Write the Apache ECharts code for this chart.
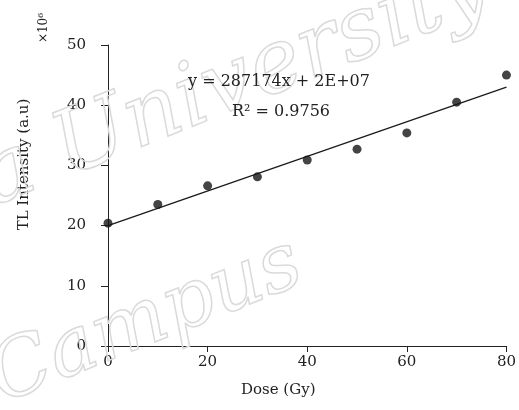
<!DOCTYPE html>
<html>
<head>
<meta charset="utf-8">
<script src="https://cdn.jsdelivr.net/npm/echarts@6/dist/echarts.min.js"></script>
<style>html,body{margin:0;padding:0;background:#fff}#c{width:519px;height:410px}</style>
</head>
<body>
<div id="c"></div>
<script>
// Data (TL intensity in units of 10^6)
const doses = [0, 10, 20, 30, 40, 50, 60, 70, 80];
const intensity = [20.4, 23.5, 26.6, 28.1, 30.9, 32.7, 35.4, 40.5, 45.0];
const trendX = [0, 80];
const trendY = [20.0, 43.0];
const xTicks = [0, 20, 40, 60, 80];
const yTicks = [0, 10, 20, 30, 40, 50];
const equationText = 'y = 287174x + 2E+07';
const r2Text = 'R² = 0.9756';

const FONT = '"DejaVu Serif", "Liberation Serif", serif';
const WM = 'rgba(0,0,0,0)';
const chart = echarts.init(document.getElementById('c'), null, {renderer: 'canvas'});
chart.setOption({
  backgroundColor: '#fff',
  animation: false,
  grid: {left: 108, right: 8, top: 45, bottom: 64, containLabel: false},
  xAxis: {
    type: 'value', min: xTicks[0], max: xTicks[xTicks.length - 1], interval: 20,
    name: 'Dose (Gy)', nameLocation: 'middle', nameGap: 37,
    nameTextStyle: {fontFamily: FONT, fontSize: 15, color: '#222', padding: [0, 58, 0, 0]},
    axisLine: {show: true, onZero: false, lineStyle: {color: '#222', width: 1}},
    axisTick: {show: true, inside: false, length: 6, lineStyle: {color: '#222'}},
    axisLabel: {fontFamily: FONT, fontSize: 15, color: '#222', margin: 9},
    splitLine: {show: false}
  },
  yAxis: {
    type: 'value', min: yTicks[0], max: yTicks[yTicks.length - 1], interval: 10,
    name: 'TL Intensity (a.u)', nameLocation: 'middle', nameGap: 76,
    nameTextStyle: {fontFamily: FONT, fontSize: 15, color: '#222', padding: [0, 0, 0, 62]},
    axisLine: {show: true, onZero: false, lineStyle: {color: '#222', width: 1}},
    axisTick: {show: true, inside: false, length: 7, lineStyle: {color: '#222'}},
    axisLabel: {fontFamily: FONT, fontSize: 15, color: '#222', margin: 22},
    splitLine: {show: false}
  },
  series: [
    {
      type: 'line', data: trendX.map((x, i) => [x, trendY[i]]),
      showSymbol: false, symbol: 'none', silent: true,
      lineStyle: {color: '#1a1a1a', width: 1.3}, z: 2
    },
    {
      type: 'scatter', data: doses.map((x, i) => [x, intensity[i]]),
      symbol: 'circle', symbolSize: 9,
      itemStyle: {color: '#151515'}, z: 3
    }
  ],
  graphic: [
    {type: 'text', z: 1, silent: true,
      style: {text: 'a University', font: 'italic 88px "DejaVu Serif", serif', fill: WM, stroke: '#dadada', lineWidth: 1.5, textVerticalAlign: 'bottom'},
      position: [0, 226], rotation: 0.38},
    {type: 'text', z: 1, silent: true,
      style: {text: 'Campus', font: 'italic 80px "DejaVu Serif", serif', fill: WM, stroke: '#dadada', lineWidth: 1.5, textVerticalAlign: 'bottom'},
      position: [9, 421], rotation: 0.38},
    {type: 'text', z: 10, silent: true,
      style: {text: equationText, font: '16px ' + FONT, fill: '#222', textAlign: 'center', textVerticalAlign: 'middle'},
      position: [279, 82]},
    {type: 'text', z: 10, silent: true,
      style: {text: r2Text, font: '16px ' + FONT, fill: '#222', textAlign: 'center', textVerticalAlign: 'middle'},
      position: [281, 112]},
    {type: 'text', z: 10, silent: true,
      style: {text: '×10⁶', font: '12px ' + FONT, fill: '#222', textAlign: 'center', textVerticalAlign: 'middle'},
      position: [44, 28], rotation: Math.PI / 2}
  ]
});
</script>
</body>
</html>
